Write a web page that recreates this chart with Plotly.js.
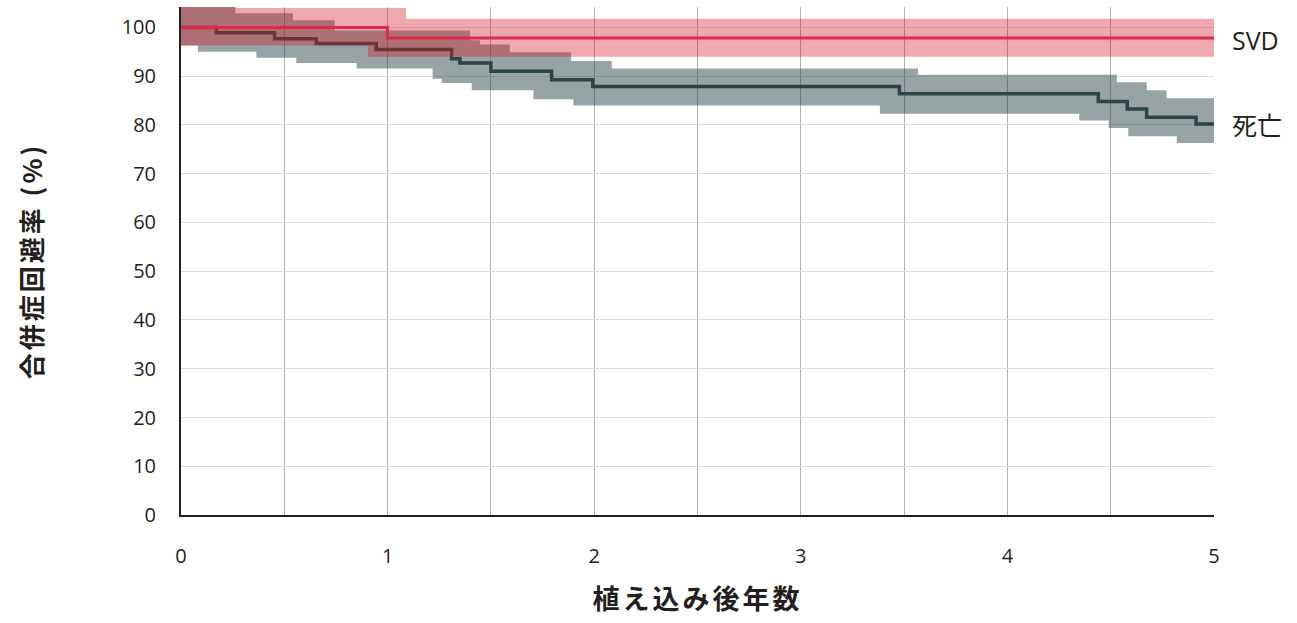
<!DOCTYPE html>
<html>
<head>
<meta charset="utf-8">
<script src="https://cdn.plot.ly/plotly-3.0.1.min.js"></script>
<style>html,body{margin:0;padding:0;background:#fff;}#chart{width:1297px;height:623px;}</style>
</head>
<body>
<div id="chart"></div>
<script>
// Death (死亡) Kaplan-Meier estimate
const deathTimes = [0, 0.171, 0.453, 0.655, 0.945, 1.31, 1.35, 1.50, 1.794, 1.993, 3.477, 4.44, 4.58, 4.674, 4.913, 5];
const deathSurv  = [100, 98.9, 97.7, 96.7, 95.5, 93.6, 92.7, 91.0, 89.3, 87.9, 86.4, 84.8, 83.3, 81.6, 80.2, 80.2];
// Death confidence band
const deathUpperTimes = [0, 0.263, 0.542, 0.744, 1.399, 1.447, 1.592, 1.888, 2.085, 3.567, 4.53, 4.674, 4.77, 5];
const deathUpper      = [106, 102.9, 101.5, 99.4, 97.4, 96.5, 94.9, 93.1, 91.6, 90.3, 88.75, 87.1, 85.5, 85.5];
const deathLowerTimes = [0, 0.082, 0.365, 0.558, 0.85, 1.218, 1.262, 1.407, 1.706, 1.899, 3.383, 4.348, 4.49, 4.585, 4.82, 5];
const deathLower      = [96.3, 95.0, 93.8, 92.7, 91.6, 89.5, 88.6, 87.1, 85.3, 84.0, 82.3, 80.9, 79.4, 77.7, 76.3, 76.3];
// SVD estimate
const svdTimes = [0, 0.999, 5];
const svdSurv  = [100, 97.85, 97.85];
const svdUpperTimes = [0, 0.263, 1.089, 5];
const svdUpper      = [106, 104.0, 101.8, 101.8];
const svdLowerTimes = [0, 0.905, 5];
const svdLower      = [96.3, 94.0, 94.0];
// Axis ticks
const yTicks = [0, 10, 20, 30, 40, 50, 60, 70, 80, 90, 100];
const xTickVals = [0, 0.5, 1, 1.5, 2, 2.5, 3, 3.5, 4, 4.5, 5];
const xTickText = ['0', '', '1', '', '2', '', '3', '', '4', '', '5'];
const seriesNames = ['SVD', '死亡'];

const grayLine = '#2b4446';
const grayFill = 'rgba(42,68,70,0.49)';
const redLine = 'rgb(218,44,70)';
const redFill = 'rgba(215,26,47,0.38)';

const traces = [
  {x: deathLowerTimes, y: deathLower, type: 'scatter', mode: 'lines', line: {shape: 'hv', width: 0, color: grayFill}, hoverinfo: 'skip', showlegend: false},
  {x: deathUpperTimes, y: deathUpper, type: 'scatter', mode: 'lines', line: {shape: 'hv', width: 0, color: grayFill}, fill: 'tonexty', fillcolor: grayFill, hoverinfo: 'skip', showlegend: false},
  {x: deathTimes, y: deathSurv, type: 'scatter', mode: 'lines', line: {shape: 'hv', width: 3.5, color: grayLine}, name: seriesNames[1], showlegend: false},
  {x: svdLowerTimes, y: svdLower, type: 'scatter', mode: 'lines', line: {shape: 'hv', width: 0, color: redFill}, hoverinfo: 'skip', showlegend: false},
  {x: svdUpperTimes, y: svdUpper, type: 'scatter', mode: 'lines', line: {shape: 'hv', width: 0, color: redFill}, fill: 'tonexty', fillcolor: redFill, hoverinfo: 'skip', showlegend: false},
  {x: svdTimes, y: svdSurv, type: 'scatter', mode: 'lines', line: {shape: 'hv', width: 3, color: redLine}, name: seriesNames[0], showlegend: false}
];

const tickFont = {family: '"Open Sans", "Noto Sans", sans-serif', size: 20, color: '#231f20'};
const xTitleFont = {family: '"Noto Sans CJK JP", sans-serif', size: 27, color: '#231f20', weight: 'bold'};
const yTitleFont = {family: '"Noto Sans CJK JP", sans-serif', size: 26, color: '#231f20', weight: 'bold'};
const labelFont = {family: '"Open Sans", "Noto Sans CJK JP", sans-serif', size: 25, color: '#231f20'};

const layout = {
  width: 1297, height: 623,
  margin: {l: 181, r: 83, t: 7, b: 108, pad: 0},
  paper_bgcolor: '#ffffff', plot_bgcolor: '#ffffff',
  showlegend: false,
  xaxis: {
    range: [0, 5], tickvals: xTickVals, ticktext: xTickText,
    showgrid: true, gridcolor: '#b0b0b0', gridwidth: 1,
    zeroline: false, showline: true, linecolor: '#231f20', linewidth: 2,
    ticks: '', ticklabelstandoff: 22, tickfont: tickFont,
    title: {text: '植え込み後年数', font: xTitleFont, standoff: 22}
  },
  yaxis: {
    range: [0, 104.2], tickvals: yTicks,
    showgrid: true, gridcolor: '#dadada', gridwidth: 1,
    zeroline: false, showline: true, linecolor: '#231f20', linewidth: 2,
    ticks: '', ticklabelstandoff: 19, tickfont: tickFont,
    title: {text: '合併症回避率 (%)', font: yTitleFont, standoff: 72}
  },
  annotations: [
    {x: svdTimes[svdTimes.length - 1], y: svdSurv[svdSurv.length - 1], xref: 'x', yref: 'y', text: seriesNames[0], showarrow: false, xanchor: 'left', yanchor: 'middle', xshift: 16, yshift: -2, font: labelFont},
    {x: deathTimes[deathTimes.length - 1], y: deathSurv[deathSurv.length - 1], xref: 'x', yref: 'y', text: seriesNames[1], showarrow: false, xanchor: 'left', yanchor: 'middle', xshift: 16, yshift: -1, font: labelFont}
  ]
};

Plotly.newPlot('chart', traces, layout, {displayModeBar: false, staticPlot: true}).then(function () {
  document.querySelectorAll('.g-xtitle text').forEach(function (t) { t.style.letterSpacing = '3px'; });
  document.querySelectorAll('.g-ytitle text').forEach(function (t) { t.style.letterSpacing = '3px'; });
});
</script>
</body>
</html>
